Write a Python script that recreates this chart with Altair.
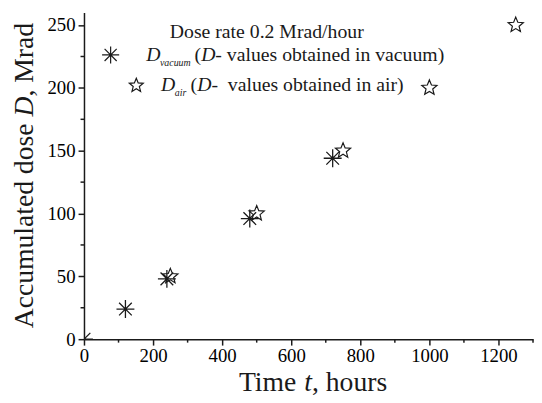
import altair as alt
import pandas as pd

# ---- data ----
vac_t = [0, 120, 240, 480, 720]
vac_d = [0, 24, 48, 96, 144]
air_t = [250, 500, 750, 1000, 1250]
air_d = [50, 100, 150, 200, 250]
x_major = [0, 200, 400, 600, 800, 1000, 1200]
x_minor = [100, 300, 500, 700, 900, 1100, 1300]
y_major = [0, 50, 100, 150, 200, 250]
y_minor = [25, 75, 125, 175, 225]

legend_title = "Dose rate 0.2 Mrad/hour"
vac_label = "- values obtained in vacuum)"
air_label = "-\u00a0 values obtained in air)"

W, H = 455, 331
FONT = "Liberation Serif"
INK = "#1a1a1a"
ASTER = "M-1,0L1,0M0,-1L0,1M-0.707,-0.707L0.707,0.707M-0.707,0.707L0.707,-0.707"
STAR = ("M0,-1L0.26,-0.36L0.951,-0.309L0.42,0.137L0.588,0.809L0,0.44"
        "L-0.588,0.809L-0.42,0.137L-0.951,-0.309L-0.26,-0.36Z")

xs = alt.Scale(domain=[0, 1300], nice=False, zero=True)
ys = alt.Scale(domain=[0, 260], nice=False, zero=True)

vac = pd.DataFrame({"t": vac_t, "D": vac_d})
air = pd.DataFrame({"t": air_t, "D": air_d})
xmin_df = pd.DataFrame({"v": x_minor})
ymin_df = pd.DataFrame({"v": y_minor})
dummy = pd.DataFrame({"a": [0]})

x_axis = alt.Axis(values=x_major, title=None, labelFont=FONT, labelFontSize=19,
                  labelColor="black", tickSize=6, tickColor=INK, tickWidth=1.5,
                  domainColor=INK, domainWidth=1.5, labelPadding=2, grid=False,
                  labelFlush=False, format="d")
y_axis = alt.Axis(values=y_major, title=None, labelFont=FONT, labelFontSize=19,
                  labelColor="black", tickSize=6, tickColor=INK, tickWidth=1.5,
                  domainColor=INK, domainWidth=1.5, labelPadding=3, grid=False,
                  labelFlush=False, format="d")

vac_layer = alt.Chart(vac).mark_point(
    shape=ASTER, size=330, filled=False, stroke=INK, strokeWidth=1.3,
    opacity=1, clip=True
).encode(x=alt.X("t:Q", scale=xs, axis=x_axis),
         y=alt.Y("D:Q", scale=ys, axis=y_axis))

air_layer = alt.Chart(air).mark_point(
    shape=STAR, size=260, filled=False, stroke=INK, strokeWidth=1.2,
    opacity=1, clip=True
).encode(x=alt.X("t:Q", scale=xs), y=alt.Y("D:Q", scale=ys))

xminor = alt.Chart(xmin_df).mark_rule(color=INK, strokeWidth=1.5).encode(
    x=alt.X("v:Q", scale=xs), y=alt.value(H), y2=alt.value(H + 3.5))
yminor = alt.Chart(ymin_df).mark_rule(color=INK, strokeWidth=1.5).encode(
    y=alt.Y("v:Q", scale=ys), x=alt.value(0), x2=alt.value(-3.5))


def label(text, x, y, size=20, style="normal", angle=0):
    return alt.Chart(dummy).mark_text(
        text=text, font=FONT, fontSize=size, fontStyle=style, align="left",
        baseline="middle", color=INK, angle=angle
    ).encode(x=alt.value(x), y=alt.value(y))


def symbol(shape, x, y, size):
    return alt.Chart(dummy).mark_point(
        shape=shape, size=size, filled=False, stroke=INK, strokeWidth=1.2, opacity=1
    ).encode(x=alt.value(x), y=alt.value(y))


texts = [
    label(legend_title, 87, 20),
    symbol(ASTER, 27, 43, 300),
    label("D", 63, 43, style="italic"),
    label("vacuum", 77, 51, size=10, style="italic"),
    label("(", 112, 43),
    label("D", 118.7, 43, style="italic"),
    label(vac_label, 133.1, 43),
    symbol(STAR, 53, 74, 220),
    label("D", 78, 74, style="italic"),
    label("air", 92, 82, size=10, style="italic"),
    label("(", 108, 74),
    label("D", 114.7, 74, style="italic"),
    label(air_label, 129.1, 74),
    # x title
    label("Time ", 157, 376, size=28),
    label("t", 223.1, 376, size=28, style="italic"),
    label(", hours", 231, 376, size=28),
    # y title
    label("Accumulated dose ", -60, 320, size=28, angle=270),
    label("D", -60, 105.4, size=28, style="italic", angle=270),
    label(", Mrad", -60, 85.2, size=28, angle=270),
]

chart = alt.layer(vac_layer, air_layer, xminor, yminor, *texts).properties(
    width=W, height=H,
    autosize=alt.AutoSizeParams(type="none"),
    padding={"left": 77, "top": 2, "right": 1, "bottom": 55},
    background="white",
).configure_view(stroke=None)

chart.save("out.html", embed_options={"renderer": "svg", "actions": False})
